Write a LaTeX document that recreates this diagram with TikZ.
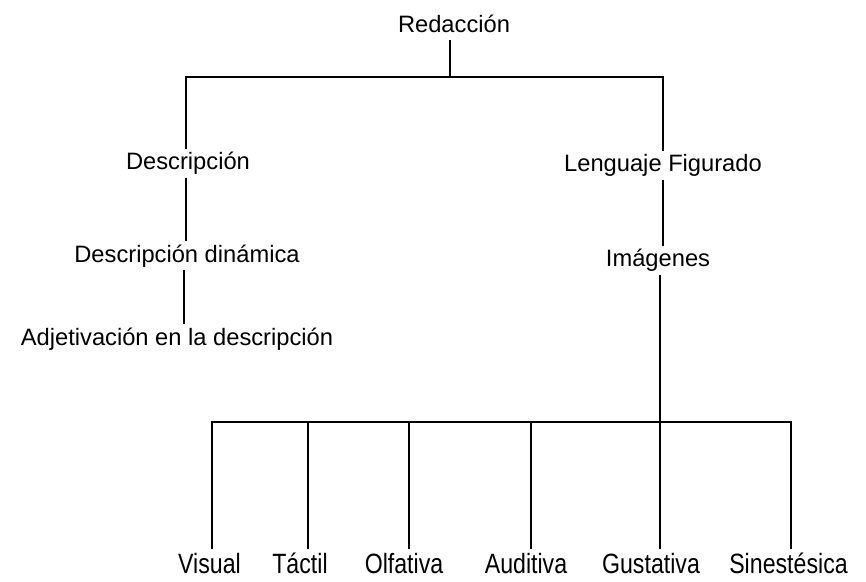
\documentclass[tikz,border=0pt]{standalone}
\usepackage{fontspec}
\setmainfont{Liberation Sans}
\newfontfamily\narrowfont{Liberation Sans}[FakeStretch=0.83]

\begin{document}
\begin{tikzpicture}[
  x=1pt, y=-1pt,
  term/.style={inner sep=0pt, outer sep=3pt, anchor=base,
               text height=18pt, text depth=5pt,
               font=\fontsize{23.7}{28}\selectfont},
  sense/.style={term, text height=21pt,
                font=\narrowfont\fontsize{27.9}{32}\selectfont},
  link/.style={line width=1.6pt}
]
  \useasboundingbox (0,0) rectangle (866,581);

  % upper part
  \node[term] (red) at (454,32.3)  {Redacción};
  \node[term] (des) at (188,169.5) {Descripción};
  \node[term] (dyn) at (187,262)   {Descripción dinámica};
  \node[term] (adj) at (177,345)   {Adjetivación en la descripción};
  \node[term] (len) at (663,171.7) {Lenguaje Figurado};
  \node[term] (img) at (658,266.7) {Imágenes};

  % lower row
  \node[sense] (vis) at (209.5,573) {Visual};
  \node[sense] (tac) at (300,573)   {Táctil};
  \node[sense] (olf) at (404,573)   {Olfativa};
  \node[sense] (aud) at (526,573)   {Auditiva};
  \node[sense] (gus) at (651,573)   {Gustativa};
  \node[sense] (sin) at (788.5,573) {Sinestésica};

  \coordinate (top) at (450,77);
  \coordinate (hub) at (660,422);

  \draw[link] (red.south -| top) -- (top);
  \draw[link] ([xshift=-2pt]des.north) |- (top) -| (len.north);
  \draw[link] ([xshift=-2pt]des.south) -- ([xshift=-2pt]des.south |- dyn.north);
  \draw[link] ([xshift=-3pt]dyn.south) -- ([xshift=-3pt]dyn.south |- adj.north);
  \draw[link] (len.south) -- (len.south |- img.north);

  \draw[link] (img.south -| hub) -- (hub |- gus.north);
  \draw[link] ([xshift=2.5pt]vis.north) |- (hub) -| ([xshift=2.5pt]sin.north);
  \draw[link] ([xshift=8pt]tac.north) -- ([xshift=8pt]tac.north |- hub);
  \draw[link] ([xshift=5pt]olf.north) -- ([xshift=5pt]olf.north |- hub);
  \draw[link] ([xshift=5pt]aud.north) -- ([xshift=5pt]aud.north |- hub);
\end{tikzpicture}
\end{document}
